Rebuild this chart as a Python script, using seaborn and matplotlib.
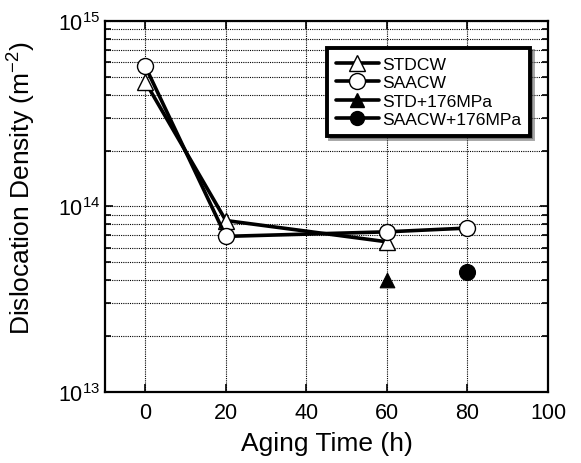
import matplotlib
matplotlib.use("Agg")
import matplotlib.pyplot as plt
import seaborn as sns
from matplotlib.lines import Line2D
from matplotlib.ticker import LogLocator, NullFormatter, FixedLocator

# data
stdcw_time = [0, 20, 60]
stdcw_density = [4.7e14, 8.4e13, 6.45e13]
saacw_time = [0, 20, 60, 80]
saacw_density = [5.7e14, 6.9e13, 7.3e13, 7.65e13]
std176_time = [60]
std176_density = [4.0e13]
saacw176_time = [80]
saacw176_density = [4.45e13]

sns.set_style("ticks")
plt.rcParams["font.family"] = ["Liberation Sans", "DejaVu Sans"]
plt.rcParams["mathtext.fontset"] = "custom"
plt.rcParams["mathtext.rm"] = "Liberation Sans"
plt.rcParams["mathtext.it"] = "Liberation Sans"
for key in ["text.color", "axes.labelcolor", "xtick.color", "ytick.color"]:
    plt.rcParams[key] = "black"

fig = plt.figure(figsize=(5.81, 4.64), dpi=100)
ax = fig.add_axes([0.1807, 0.153, 0.7625, 0.7997])

lw = 2.6
sns.lineplot(x=stdcw_time, y=stdcw_density, ax=ax, color="black", linewidth=lw,
             marker="^", markersize=11.5, markerfacecolor="white",
             markeredgecolor="black", markeredgewidth=1.0, zorder=3)
sns.lineplot(x=saacw_time, y=saacw_density, ax=ax, color="black", linewidth=lw,
             marker="o", markersize=11.5, markerfacecolor="white",
             markeredgecolor="black", markeredgewidth=1.0, zorder=4)
sns.scatterplot(x=std176_time, y=std176_density, ax=ax, color="black",
                marker="^", s=110, edgecolor="black", zorder=5)
sns.scatterplot(x=saacw176_time, y=saacw176_density, ax=ax, color="black",
                marker="o", s=130, edgecolor="black", zorder=5)

ax.set_yscale("log")
ax.set_xlim(-10, 100)
ax.set_ylim(1e13, 1e15)
ax.xaxis.set_major_locator(FixedLocator([0, 20, 40, 60, 80, 100]))
ax.yaxis.set_major_locator(LogLocator(base=10, numticks=5))
ax.yaxis.set_minor_locator(LogLocator(base=10, subs=range(2, 10), numticks=20))
ax.yaxis.set_minor_formatter(NullFormatter())

ax.grid(True, which="both", axis="y", linestyle=(0, (1, 1)), color="black", linewidth=0.8)
ax.grid(True, which="major", axis="x", linestyle=(0, (1, 1)), color="black", linewidth=0.8)

ax.tick_params(which="both", direction="in", top=True, right=True, labelsize=15.5,
               color="black", labelcolor="black", width=1.2)
ax.tick_params(which="major", length=6)
ax.tick_params(which="minor", length=4)
ax.tick_params(axis="x", pad=7)
for s in ax.spines.values():
    s.set_linewidth(1.6)
    s.set_color("black")

ax.set_xlabel("Aging Time (h)", fontsize=19, labelpad=6)
ax.set_ylabel("Dislocation Density (m$^{\\mathregular{-2}}$)", fontsize=19)
ax.yaxis.set_label_coords(-0.152, 0.553)

handles = [
    Line2D([], [], color="black", lw=lw, marker="^", markersize=11.5,
           markerfacecolor="white", markeredgecolor="black"),
    Line2D([], [], color="black", lw=lw, marker="o", markersize=11.5,
           markerfacecolor="white", markeredgecolor="black"),
    Line2D([], [], color="black", lw=lw, marker="^", markersize=10,
           markerfacecolor="black", markeredgecolor="black"),
    Line2D([], [], color="black", lw=lw, marker="o", markersize=10,
           markerfacecolor="black", markeredgecolor="black"),
]
labels = ["STDCW", "SAACW", "STD+176MPa", "SAACW+176MPa"]
leg = ax.legend(handles, labels, loc="upper right", bbox_to_anchor=(0.959, 0.927),
                fontsize=12.6, handlelength=2.5, handletextpad=0.15,
                labelspacing=0.18, borderpad=0.5, fancybox=False, shadow=True,
                framealpha=1, edgecolor="black", borderaxespad=0)
leg.get_frame().set_linewidth(2.8)

fig.savefig("out.png", dpi=100)
